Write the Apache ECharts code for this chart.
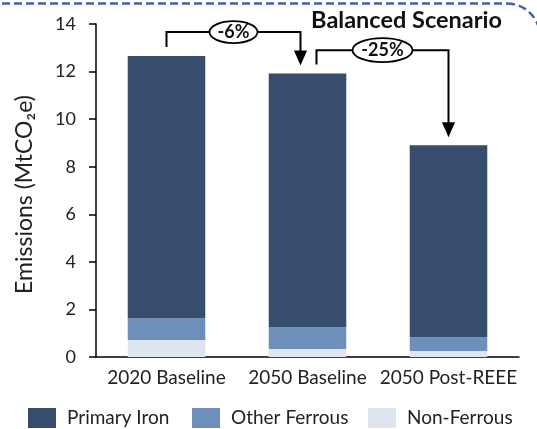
<!DOCTYPE html>
<html><head><meta charset="utf-8">
<script src="https://cdn.jsdelivr.net/npm/echarts@6/dist/echarts.min.js"></script>
<style>html,body{margin:0;padding:0;background:#fff;overflow:hidden}#c{width:537px;height:429px}</style>
</head><body><div id="c"></div>
<script>
const categories = ['2020 Baseline', '2050 Baseline', '2050 Post-REEE'];
const nonFerrous = [0.71, 0.34, 0.25];
const otherFerrous = [0.92, 0.91, 0.58];
const primaryIron = [11.02, 10.67, 8.07];
const seriesNames = ['Primary Iron', 'Other Ferrous', 'Non-Ferrous'];
const changeLabels = ['-6%', '-25%'];
const bracketLevels = [13.66, 12.9];
const yMin = 0, yMax = 14, yStep = 2;

const FONT = 'Lato';
const colors = {primary: '#374d6e', other: '#6f8fbb', non: '#dfe5ef'};

const chart = echarts.init(document.getElementById('c'));
const option = {
  animation: false,
  backgroundColor: '#fff',
  textStyle: {fontFamily: FONT},
  title: {
    text: 'Balanced Scenario', right: 30, top: 3,
    textStyle: {fontFamily: FONT, fontWeight: 'bold', fontSize: 23.5, color: '#111'}
  },
  grid: {left: 96, right: 18, top: 24, bottom: 72},
  legend: [
    {data: [seriesNames[0]], left: 28, top: 408},
    {data: [seriesNames[1]], left: 192, top: 408},
    {data: [seriesNames[2]], left: 368, top: 408}
  ].map(l => Object.assign(l, {
    icon: 'rect', itemWidth: 28, itemHeight: 20, padding: 0,
    textStyle: {fontFamily: FONT, fontSize: 19, color: '#222', padding: [0, 0, 0, 6]}
  })),
  xAxis: {
    type: 'category', data: categories,
    axisLine: {show: true, lineStyle: {color: '#000', width: 1.5}},
    axisTick: {show: false},
    axisLabel: {fontFamily: FONT, fontSize: 19, color: '#222', margin: 11, interval: 0}
  },
  yAxis: {
    type: 'value', min: yMin, max: yMax, interval: yStep,
    name: 'Emissions (MtCO\u2082e)', nameLocation: 'middle', nameGap: 60,
    nameTextStyle: {fontFamily: FONT, fontSize: 23, color: '#222', padding: [0, 8, 0, 0]},
    axisLine: {show: true, lineStyle: {color: '#000', width: 1.5}},
    axisTick: {show: true, length: 7, lineStyle: {color: '#000', width: 1.5}},
    splitLine: {show: false},
    axisLabel: {fontFamily: FONT, fontSize: 18, color: '#222', margin: 20}
  },
  series: [
    {name: seriesNames[2], type: 'bar', stack: 't', data: nonFerrous, barWidth: '55%', itemStyle: {color: colors.non}},
    {name: seriesNames[1], type: 'bar', stack: 't', data: otherFerrous, itemStyle: {color: colors.other}},
    {name: seriesNames[0], type: 'bar', stack: 't', data: primaryIron, itemStyle: {color: colors.primary}}
  ]
};
chart.setOption(option);

const totals = categories.map((_, i) => nonFerrous[i] + otherFerrous[i] + primaryIron[i]);
const px = (ci, v) => chart.convertToPixel({gridIndex: 0}, [ci, v]);
const brackets = [
  {from: 0, to: 1, dxStart: 0, dxEnd: -7},
  {from: 1, to: 2, dxStart: 9, dxEnd: 0}
];
const borderStyle = {fill: 'none', stroke: '#3d64a6', lineWidth: 2.5, lineDash: [8, 4]};
const graphic = [
  {type: 'polyline', silent: true, shape: {points: [[-10, 3.5], [507, 3.5]]}, style: borderStyle},
  {type: 'arc', silent: true, shape: {cx: 507, cy: 36.5, r: 33, startAngle: -Math.PI / 2, endAngle: 0, clockwise: true}, style: borderStyle}
];
brackets.forEach((b, k) => {
  const s = px(b.from, totals[b.from]);
  const e = px(b.to, totals[b.to]);
  const lvl = px(b.from, bracketLevels[k])[1];
  const x1 = s[0] + b.dxStart, y1 = s[1] - 9;
  const x2 = e[0] + b.dxEnd, tip = e[1] - 8;
  graphic.push({
    type: 'polyline', silent: true,
    shape: {points: [[x1, y1], [x1, lvl], [x2, lvl], [x2, tip - 12]]},
    style: {fill: 'none', stroke: '#000', lineWidth: 2}
  });
  graphic.push({
    type: 'polygon', silent: true,
    shape: {points: [[x2 - 6.5, tip - 15], [x2 + 6.5, tip - 15], [x2, tip]]},
    style: {fill: '#000'}
  });
  const cx = (x1 + x2) / 2;
  const len = changeLabels[k].length;
  graphic.push({
    type: 'ellipse', silent: true,
    shape: {cx: cx, cy: lvl, rx: 6 * len + 6, ry: 8 + 1 * len},
    style: {fill: '#fff', stroke: '#000', lineWidth: 1.8}
  });
  graphic.push({
    type: 'text', silent: true, x: cx, y: lvl + 0.5,
    style: {text: changeLabels[k], fontFamily: FONT, fontWeight: 'bold', fontSize: 18,
            fill: '#111', align: 'center', verticalAlign: 'middle'}
  });
});
chart.setOption({graphic: graphic});
</script>
</body></html>
